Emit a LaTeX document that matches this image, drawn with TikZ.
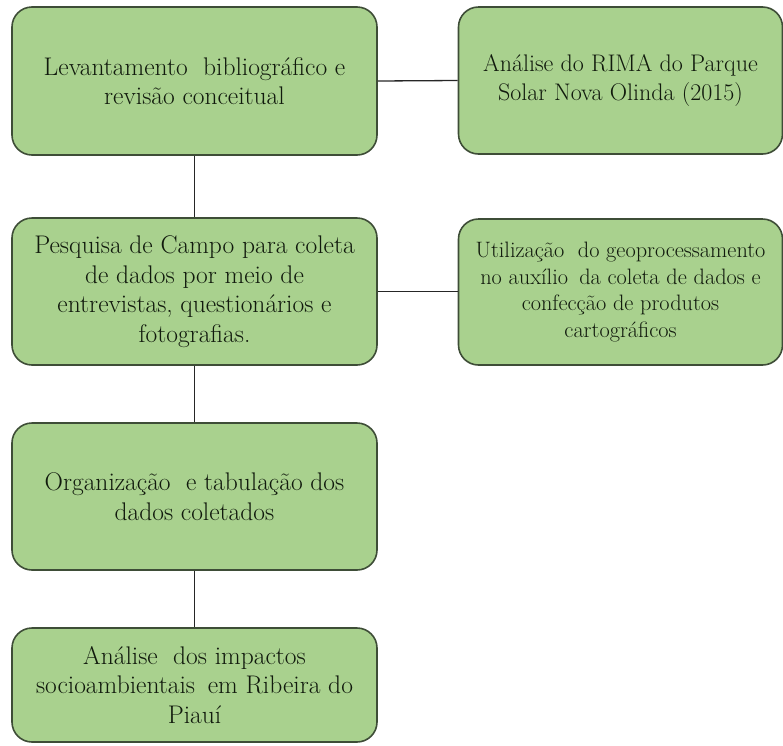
\documentclass[tikz,border=0pt]{standalone}
\usepackage{fontspec}
\definecolor{boxfill}{HTML}{A9D18E}
\definecolor{boxdraw}{HTML}{3E4D37}
\definecolor{txt}{HTML}{111A0D}
\begin{document}
\begin{tikzpicture}[x=1pt,y=-1pt,
  box/.style={draw=boxdraw, line width=1.6pt, fill=boxfill, rounded corners=20pt,
    align=center, inner sep=0pt, text=txt,
    font=\fontsize{25.5}{29.5}\selectfont},
  midbox/.style={box, font=\fontsize{24}{29.5}\selectfont},
  smallbox/.style={box, font=\fontsize{22.3}{26.7}\selectfont},
  link/.style={draw=black!85, line width=1.3pt}]
\useasboundingbox (0,0) rectangle (783,745);
\begin{scope}
\clip (0,0) rectangle (783,745);
\node[box, minimum width=365pt, minimum height=148pt] (b1) at (194.5,81)
  {Levantamento\hspace{0.3em} bibliográfico e\\revisão conceitual};
\node[midbox, minimum width=324pt, minimum height=147pt] (b2) at (620.5,80.5)
  {Análise do RIMA do Parque\\Solar Nova Olinda (2015)};
\node[box, minimum width=365pt, minimum height=147pt] (b3) at (194.5,291.5)
  {Pesquisa de Campo para coleta\\de dados por meio de\\entrevistas, questionários e\\fotografias.};
\node[smallbox, minimum width=324pt, minimum height=146pt] (b4) at (620.5,292)
  {Utilização\hspace{0.3em} do geoprocessamento\\no auxílio\hspace{0.2em} da coleta de dados e\\confecção de produtos\\cartográficos};
\node[box, minimum width=365pt, minimum height=147pt] (b5) at (194.5,496.5)
  {Organização\hspace{0.3em} e tabulação dos\\dados coletados};
\node[box, minimum width=365pt, minimum height=114pt] (b6) at (194.5,685)
  {Análise\hspace{0.3em} dos impactos\\socioambientais\hspace{0.2em} em Ribeira do\\Piauí};
\end{scope}
\draw[link] (b1.east) -- (b2.west);
\draw[link] (b1.south) -- (b3.north);
\draw[link] (b3.east) -- (b3.east -| b4.west);
\draw[link] (b3.south) -- (b5.north);
\draw[link] (b5.south) -- (b6.north);
\end{tikzpicture}
\end{document}
